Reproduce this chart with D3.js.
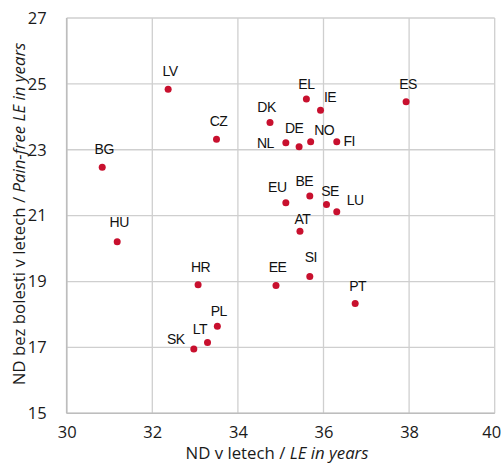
<!DOCTYPE html>
<html><head><meta charset="utf-8">
<script src="https://cdn.jsdelivr.net/npm/d3@7"></script>
<style>
html,body{margin:0;padding:0;background:#fff;}
svg{display:block;}
</style>
</head><body>
<svg id="chart" width="503" height="463"></svg>
<script>
const countries = ["LV","CZ","BG","HU","HR","PL","LT","SK","EL","IE","ES","DK","DE","NO","NL","FI","EU","BE","SE","LU","AT","SI","EE","PT"];
const lifeExpectancy = [32.37,33.50,30.83,31.18,33.07,33.52,33.29,32.97,35.60,35.93,37.93,34.75,35.43,35.70,35.12,36.31,35.12,35.68,36.07,36.31,35.45,35.68,34.89,36.74];
const painFreeLE = [24.84,23.32,22.47,20.21,18.90,17.64,17.15,16.95,24.54,24.20,24.46,23.83,23.09,23.24,23.21,23.24,21.39,21.60,21.34,21.12,20.53,19.15,18.88,18.33];
const xTicks = [30,32,34,36,38,40];
const yTicks = [15,17,19,21,23,25,27];

// label placement relative to each point (pixels)
const labelOffsets = {
  LV:[2,-18], CZ:[2,-18.5], BG:[2,-18], HU:[2,-19.5], HR:[2.5,-17.5], PL:[1.5,-15.5],
  LT:[-7.5,-13.5], SK:[-18,-10], EL:[0,-15], IE:[9.5,-13], ES:[2,-17.5], DK:[-3.5,-15],
  DE:[-5,-19], NO:[13.5,-11.5], NL:[-20.5,0.5], FI:[12.5,-0.5], EU:[-8.5,-15.5],
  BE:[-5.5,-15], SE:[3.5,-13.5], LU:[18.5,-11.5], AT:[2.5,-12], SI:[1,-19], EE:[1.5,-18], PT:[2.5,-17.5]
};

const svg = d3.select("#chart");
const x = d3.scaleLinear().domain([30,40]).range([66.7,494.7]);
const y = d3.scaleLinear().domain([15,27]).range([413.3,18]);

const grid = svg.append("g");
grid.selectAll("line.v").data(xTicks).enter().append("line")
  .attr("x1", d=>x(d)).attr("x2", d=>x(d)).attr("y1", y(15)).attr("y2", y(27))
  .attr("stroke", "#cfcfcf").attr("stroke-width", 1.3);
grid.selectAll("line.h").data(yTicks).enter().append("line")
  .attr("x1", x(30)).attr("x2", x(40)).attr("y1", d=>y(d)).attr("y2", d=>y(d))
  .attr("stroke", "#cfcfcf").attr("stroke-width", 1.3);
svg.append("line").attr("x1", x(30)).attr("x2", x(30)).attr("y1", y(15)).attr("y2", y(27))
  .attr("stroke", "#bdbdbd").attr("stroke-width", 1.6);
svg.append("line").attr("x1", x(30)).attr("x2", x(40)).attr("y1", y(15)).attr("y2", y(15))
  .attr("stroke", "#bdbdbd").attr("stroke-width", 1.6);

const tickFont = "'Open Sans', 'Noto Sans', sans-serif";

const xAxis = svg.append("g").attr("transform", `translate(0,${y(15)})`)
  .call(d3.axisBottom(x).tickValues(xTicks).tickSize(0).tickPadding(12.5).tickFormat(d3.format("d")));
xAxis.select(".domain").remove();
xAxis.selectAll("text").attr("font-family", tickFont).attr("font-size", 16.5).attr("fill", "#1a1a1a");
xAxis.selectAll(".tick").filter(d => d === 40).select("text").attr("dx", "-3.5");

const yAxis = svg.append("g").attr("transform", `translate(${x(30)},0)`)
  .call(d3.axisLeft(y).tickValues(yTicks).tickSize(0).tickPadding(20).tickFormat(d3.format("d")));
yAxis.select(".domain").remove();
yAxis.selectAll("text").attr("font-family", tickFont).attr("font-size", 16.5).attr("fill", "#1a1a1a");

const xt = svg.append("text").attr("x", 277).attr("y", 459)
  .attr("text-anchor", "middle").attr("font-family", tickFont).attr("font-size", 16.8).attr("fill", "#1a1a1a");
xt.append("tspan").text("ND v letech / ");
xt.append("tspan").attr("font-style", "italic").text("LE in years");

const yt = svg.append("text").attr("transform", "translate(25,214) rotate(-90)")
  .attr("text-anchor", "middle").attr("font-family", tickFont).attr("font-size", 16.8).attr("fill", "#1a1a1a");
yt.append("tspan").text("ND bez bolesti v letech / ");
yt.append("tspan").attr("font-style", "italic").text("Pain-free LE in years");

const data = countries.map((c,i)=>({c, x: lifeExpectancy[i], y: painFreeLE[i]}));

svg.append("g").selectAll("circle").data(data).enter().append("circle")
  .attr("cx", d=>x(d.x)).attr("cy", d=>y(d.y)).attr("r", 3.5).attr("fill", "#c8102e");

svg.append("g").selectAll("text").data(data).enter().append("text")
  .attr("x", d=>x(d.x)+labelOffsets[d.c][0])
  .attr("y", d=>y(d.y)+labelOffsets[d.c][1])
  .attr("dy", "0.35em")
  .attr("text-anchor", "middle")
  .attr("font-family", "'Liberation Sans', Arial, sans-serif")
  .attr("font-size", 14).attr("letter-spacing", "-0.5px").attr("fill", "#111")
  .text(d=>d.c);
</script>
</body></html>
